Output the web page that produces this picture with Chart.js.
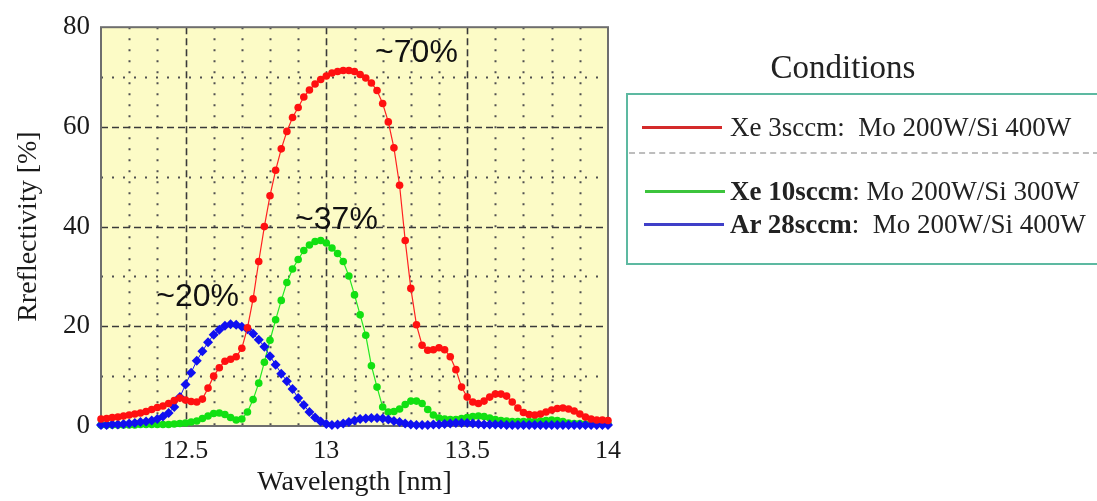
<!DOCTYPE html>
<html>
<head>
<meta charset="utf-8">
<script src="https://cdn.jsdelivr.net/npm/chart.js@4.4.1/dist/chart.umd.min.js"></script>
<style>
  body { margin: 0; background: #fff; }
  #wrap { position: relative; width: 1097px; height: 501px; overflow: hidden; }
  #chart { position: absolute; left: 0; top: 0; }
  #legend-title { position: absolute; left: 743px; width: 200px; top: 47px; text-align: center;
    font: 33px "Liberation Serif", serif; color: #222; line-height: 40px; }
  #legend-box { position: absolute; left: 626px; top: 93px; width: 490px; height: 168px;
    border: 2px solid #5db9a1; }
  #legend-sep { position: absolute; left: 629px; top: 152px; width: 470px; border-top: 2px dashed #bdbdbd; }
  .swatch { position: absolute; width: 80px; height: 3px; }
  .entry { position: absolute; left: 730px; font: 27px "Liberation Serif", serif; color: #222;
    line-height: 30px; white-space: pre; }
</style>
</head>
<body>
<div id="wrap">
  <canvas id="chart" width="1097" height="501"></canvas>
  <div id="legend-title">Conditions</div>
  <div id="legend-box"></div>
  <div id="legend-sep"></div>
</div>
<script>
// wavelength [nm]
const wavelength = [
  12.20, 12.22, 12.24, 12.26, 12.28, 12.30, 12.32, 12.34, 12.36, 12.38,
  12.40, 12.42, 12.44, 12.46, 12.48, 12.50, 12.52, 12.54, 12.56, 12.58,
  12.60, 12.62, 12.64, 12.66, 12.68, 12.70, 12.72, 12.74, 12.76, 12.78,
  12.80, 12.82, 12.84, 12.86, 12.88, 12.90, 12.92, 12.94, 12.96, 12.98,
  13.00, 13.02, 13.04, 13.06, 13.08, 13.10, 13.12, 13.14, 13.16, 13.18,
  13.20, 13.22, 13.24, 13.26, 13.28, 13.30, 13.32, 13.34, 13.36, 13.38,
  13.40, 13.42, 13.44, 13.46, 13.48, 13.50, 13.52, 13.54, 13.56, 13.58,
  13.60, 13.62, 13.64, 13.66, 13.68, 13.70, 13.72, 13.74, 13.76, 13.78,
  13.80, 13.82, 13.84, 13.86, 13.88, 13.90, 13.92, 13.94, 13.96, 13.98,
  14.00
];

// reflectivity [%]
const xe3sccm = [
  1.4, 1.5, 1.7, 1.8, 2.0, 2.2, 2.4, 2.6, 2.9, 3.3,
  3.7, 4.0, 4.5, 5.1, 5.6, 5.2, 4.9, 4.8, 5.4, 7.6,
  10.0, 11.7, 13.0, 13.4, 13.9, 15.6, 19.7, 25.5, 33.0, 40.0,
  46.2, 51.3, 55.6, 59.1, 61.9, 63.9, 66.0, 67.4, 68.6, 69.5,
  70.2, 70.8, 71.1, 71.3, 71.3, 71.1, 70.5, 69.8, 68.8, 67.3,
  64.7, 61.0, 55.8, 48.3, 37.2, 27.6, 20.3, 16.2, 15.2, 15.3,
  15.7, 15.3, 13.9, 11.3, 7.8, 5.8, 4.8, 4.5, 5.0, 5.8,
  6.4, 6.4, 6.0, 4.8, 3.6, 2.7, 2.3, 2.2, 2.4, 2.8,
  3.2, 3.5, 3.6, 3.4, 3.0, 2.4, 1.8, 1.4, 1.2, 1.2,
  1.1
];

const xe10sccm = [
  0.2, 0.2, 0.2, 0.2, 0.2, 0.2, 0.2, 0.3, 0.3, 0.3,
  0.3, 0.3, 0.3, 0.4, 0.5, 0.6, 0.8, 1.0, 1.5, 2.0,
  2.5, 2.6, 2.3, 1.7, 1.2, 1.4, 2.8, 5.3, 8.6, 12.8,
  17.2, 21.3, 25.2, 28.8, 31.5, 33.4, 35.2, 36.3, 37.0, 37.2,
  36.7, 35.7, 34.6, 33.0, 30.1, 26.3, 22.3, 18.2, 12.1, 7.8,
  3.8, 2.8, 2.9, 3.4, 4.3, 5.0, 5.0, 4.5, 3.3, 2.2,
  1.6, 1.4, 1.3, 1.3, 1.5, 1.7, 1.9, 2.0, 1.9, 1.6,
  1.3, 1.1, 1.0, 0.9, 0.9, 0.9, 0.9, 0.9, 1.0, 1.1,
  1.2, 1.1, 0.9, 0.6, 0.5, 0.5, 0.4, 0.4, 0.4, 0.4,
  0.4
];

const ar28sccm = [
  0.2, 0.2, 0.3, 0.3, 0.4, 0.5, 0.6, 0.8, 0.9, 1.1,
  1.4, 1.9, 2.6, 3.8, 5.8, 8.3, 10.7, 13.1, 15.0, 16.8,
  18.3, 19.3, 20.1, 20.4, 20.3, 19.9, 19.4, 18.5, 17.3, 15.9,
  14.0, 12.3, 10.5, 9.0, 7.4, 5.6, 4.2, 2.8, 1.7, 0.9,
  0.4, 0.2, 0.3, 0.5, 0.8, 1.1, 1.4, 1.5, 1.6, 1.6,
  1.5, 1.3, 1.0, 0.8, 0.5, 0.3, 0.2, 0.2, 0.2, 0.3,
  0.3, 0.4, 0.5, 0.6, 0.6, 0.6, 0.5, 0.4, 0.3, 0.3,
  0.3, 0.3, 0.2, 0.2, 0.2, 0.2, 0.2, 0.2, 0.2, 0.2,
  0.2, 0.2, 0.2, 0.2, 0.2, 0.2, 0.2, 0.2, 0.2, 0.2,
  0.2
];

const xTickLabels = [12.5, 13, 13.5, 14];
const yTickLabels = [0, 20, 40, 60, 80];

const legendBold = ['', 'Xe 10sccm', 'Ar 28sccm'];
const legendRest = ['Xe 3sccm:  Mo 200W/Si 400W', ': Mo 200W/Si 300W', ':  Mo 200W/Si 400W'];
const legendColors = ['#d42a2a', '#3cc43c', '#3f3fc8'];

const peakLabels = [
  { text: '~70%', x: 13.32, y: 74.8 },
  { text: '~37%', x: 13.036, y: 41.2 },
  { text: '~20%', x: 12.543, y: 25.8 }
];

const toPoints = ys => wavelength.map((w, i) => ({ x: w, y: ys[i] }));

const plotFrame = {
  id: 'plotFrame',
  beforeDatasetsDraw(chart) {
    const { ctx, chartArea: a, scales: { x, y } } = chart;
    ctx.save();
    ctx.fillStyle = '#fcfbc6';
    ctx.fillRect(a.left, a.top, a.width, a.height);

    const vline = (v, dash, w, c) => {
      const px = Math.round(x.getPixelForValue(v)) + 0.5;
      ctx.setLineDash(dash); ctx.lineWidth = w; ctx.strokeStyle = c;
      ctx.beginPath(); ctx.moveTo(px, a.top); ctx.lineTo(px, a.bottom); ctx.stroke();
    };
    const hline = (v, dash, w, c) => {
      const py = Math.round(y.getPixelForValue(v)) + 0.5;
      ctx.setLineDash(dash); ctx.lineWidth = w; ctx.strokeStyle = c;
      ctx.beginPath(); ctx.moveTo(a.left, py); ctx.lineTo(a.right, py); ctx.stroke();
    };
    // minor dotted every 0.1 nm / 10 %, major dashed every 0.5 nm / 20 %
    for (let i = 1; i < 18; i++) {
      const v = 12.2 + i * 0.1;
      if (i % 5 === 3) vline(v, [7, 4], 1.6, '#3a3a3a');
      else vline(v, [2, 9], 2, '#505050');
    }
    for (let v = 10; v < 80; v += 10) {
      if (v % 20 === 0) hline(v, [7, 4], 1.6, '#3a3a3a');
      else hline(v, [2, 9], 2, '#505050');
    }
    ctx.setLineDash([]);
    ctx.lineWidth = 2;
    ctx.strokeStyle = '#6e6e6e';
    ctx.strokeRect(a.left, a.top, a.width, a.height);
    ctx.restore();
  },
  afterDatasetsDraw(chart) {
    const { ctx, scales: { x, y } } = chart;
    ctx.save();
    ctx.font = '32px "Liberation Sans", Arial, sans-serif';
    ctx.fillStyle = '#111';
    ctx.textAlign = 'center';
    ctx.textBaseline = 'middle';
    peakLabels.forEach(p => ctx.fillText(p.text, x.getPixelForValue(p.x), y.getPixelForValue(p.y)));
    ctx.restore();
  }
};

new Chart(document.getElementById('chart'), {
  type: 'line',
  data: {
    datasets: [
      {
        data: toPoints(xe3sccm),
        borderColor: '#ff2020', backgroundColor: '#ff1010',
        borderWidth: 1.2, pointRadius: 3.8, pointBorderWidth: 0, pointStyle: 'circle'
      },
      {
        data: toPoints(ar28sccm),
        borderColor: '#1414ff', backgroundColor: '#1010f0',
        borderWidth: 1, pointRadius: 5, pointBorderWidth: 0, pointStyle: 'rectRot'
      },
      {
        data: toPoints(xe10sccm),
        borderColor: '#22e822', backgroundColor: '#12e012',
        borderWidth: 1.2, pointRadius: 3.8, pointBorderWidth: 0, pointStyle: 'circle'
      }
    ]
  },
  options: {
    responsive: false,
    animation: false,
    devicePixelRatio: 1,
    clip: false,
    layout: { padding: { left: 0, top: 22, right: 489, bottom: 0 } },
    plugins: { legend: { display: false }, tooltip: { enabled: false } },
    scales: {
      x: {
        type: 'linear', min: 12.2, max: 14,
        afterBuildTicks: s => { s.ticks = xTickLabels.map(v => ({ value: v })); },
        afterFit: s => { s.height = 75; },
        grid: { display: false, drawTicks: false },
        border: { display: false },
        ticks: {
          padding: 10, color: '#1a1a1a', maxRotation: 0,
          font: { family: '"Liberation Serif", serif', size: 26 },
          callback: v => String(v)
        },
        title: {
          display: true, text: 'Wavelength [nm]', color: '#1a1a1a',
          font: { family: '"Liberation Serif", serif', size: 28, lineHeight: 1.2 },
          padding: { top: 0, bottom: 2 }
        }
      },
      y: {
        min: 0, max: 80,
        afterBuildTicks: s => { s.ticks = yTickLabels.map(v => ({ value: v })); },
        afterFit: s => { s.width = 101; },
        grid: { display: false, drawTicks: false },
        border: { display: false },
        ticks: {
          padding: 11, color: '#1a1a1a',
          font: { family: '"Liberation Serif", serif', size: 27 }
        },
        title: {
          display: true, text: 'Rreflectivity [%]', color: '#1a1a1a',
          font: { family: '"Liberation Serif", serif', size: 28, lineHeight: 1.2 },
          padding: { top: 12, bottom: 0 }
        }
      }
    }
  },
  plugins: [plotFrame]
});

// legend entries
const wrap = document.getElementById('wrap');
const rowY = [127, 191, 224];
const swatchX = [642, 645, 644];
legendRest.forEach((rest, i) => {
  const sw = document.createElement('div');
  sw.className = 'swatch';
  sw.style.left = swatchX[i] + 'px';
  sw.style.top = (rowY[i] - 1) + 'px';
  sw.style.background = legendColors[i];
  wrap.appendChild(sw);

  const t = document.createElement('div');
  t.className = 'entry';
  t.style.top = (rowY[i] - 15) + 'px';
  if (legendBold[i]) {
    const b = document.createElement('b');
    b.textContent = legendBold[i];
    t.appendChild(b);
  }
  t.appendChild(document.createTextNode(rest));
  wrap.appendChild(t);
});
</script>
</body>
</html>
